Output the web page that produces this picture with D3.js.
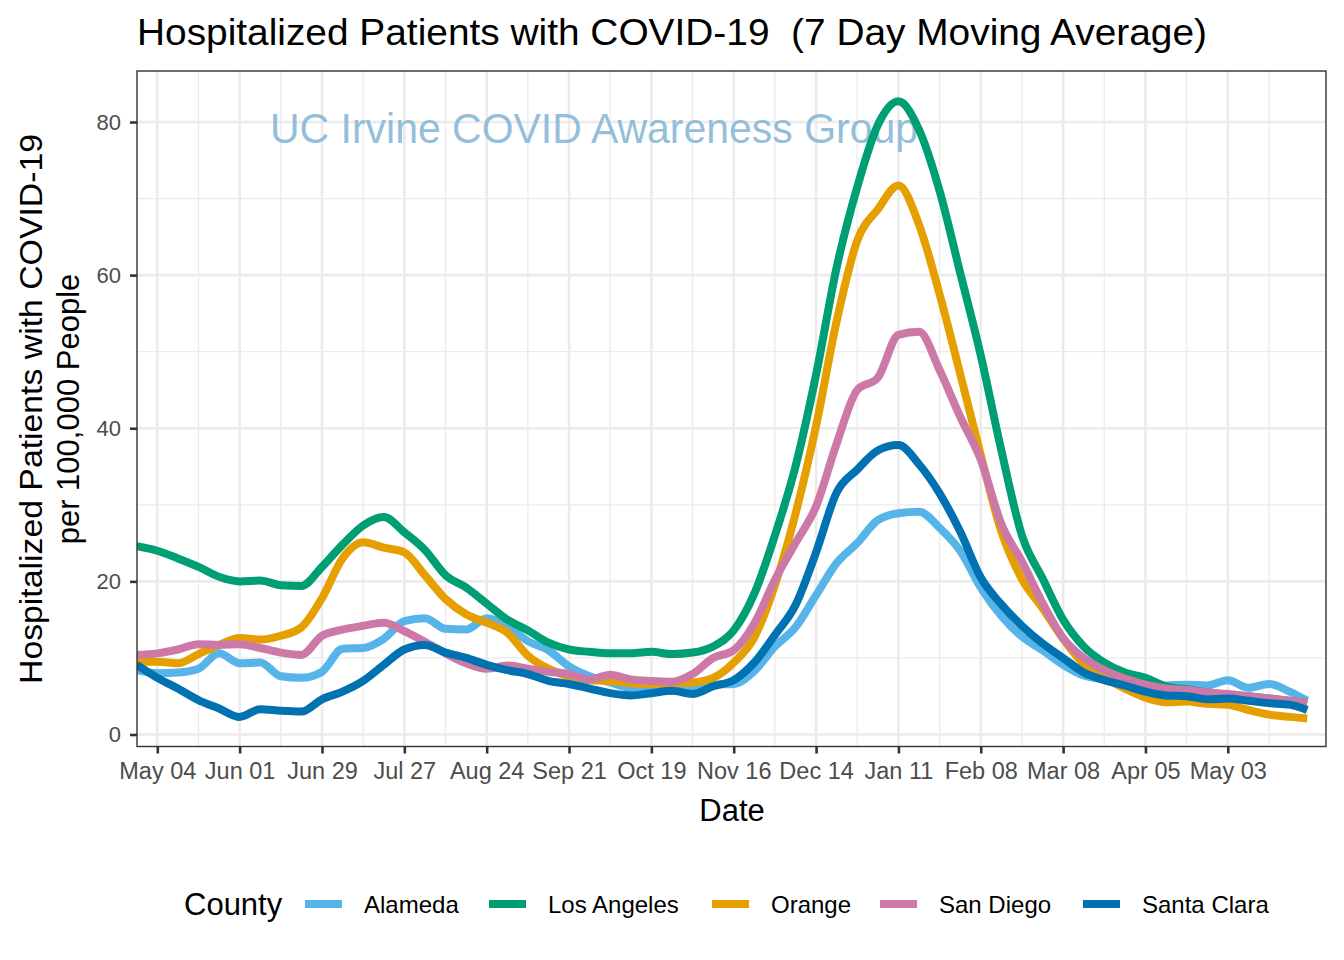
<!DOCTYPE html>
<html>
<head>
<meta charset="utf-8">
<script src="https://cdn.jsdelivr.net/npm/d3@7"></script>
<style>
  html, body { margin: 0; padding: 0; background: #ffffff; }
  svg { display: block; }
  text { font-family: "Liberation Sans", Arial, Helvetica, sans-serif; }
</style>
</head>
<body>
<svg id="chart" width="1344" height="960"></svg>
<script>
// ---------------- DATA ----------------
const dates = [
  "2020-04-27","2020-05-04","2020-05-11","2020-05-18","2020-05-25","2020-06-01","2020-06-08","2020-06-15",
  "2020-06-22","2020-06-29","2020-07-06","2020-07-13","2020-07-20","2020-07-27","2020-08-03","2020-08-10",
  "2020-08-17","2020-08-24","2020-08-31","2020-09-07","2020-09-14","2020-09-21","2020-09-28","2020-10-05",
  "2020-10-12","2020-10-19","2020-10-26","2020-11-02","2020-11-09","2020-11-16","2020-11-23","2020-11-30",
  "2020-12-07","2020-12-14","2020-12-21","2020-12-28","2021-01-04","2021-01-11","2021-01-18","2021-01-25",
  "2021-02-01","2021-02-08","2021-02-15","2021-02-22","2021-03-01","2021-03-08","2021-03-15","2021-03-22",
  "2021-03-29","2021-04-05","2021-04-12","2021-04-19","2021-04-26","2021-05-03","2021-05-10","2021-05-17",
  "2021-05-24","2021-05-30"
];
const counties = ["Alameda", "Los Angeles", "Orange", "San Diego", "Santa Clara"];
const alameda = [8.4,8.0,8.1,8.6,10.6,9.3,9.4,7.6,7.4,8.2,11.2,11.3,12.5,14.8,15.2,13.8,13.7,15.2,14.2,12.2,11.0,8.9,7.6,6.8,6.0,5.7,5.7,5.9,6.5,6.6,8.3,11.5,14.0,18.2,22.4,25.0,28.0,28.9,29.1,27.0,24.0,19.2,15.5,12.8,11.0,9.1,7.7,7.2,6.6,6.1,6.4,6.5,6.4,7.1,6.1,6.6,5.6,4.4];
const losAngeles = [24.6,24.0,23.0,21.9,20.6,20.0,20.1,19.5,19.4,21.9,24.8,27.3,28.4,26.4,24.1,20.8,19.2,17.1,15.0,13.6,12.0,11.1,10.8,10.6,10.6,10.8,10.5,10.7,11.5,13.6,18.4,26.0,35.0,47.0,61.0,71.5,79.6,82.7,79.0,71.0,60.3,49.5,37.1,26.0,20.4,15.0,11.5,9.4,8.1,7.4,6.3,5.9,5.5,5.2,5.0,4.7,4.4,4.1];
const orange = [9.5,9.5,9.3,10.5,11.7,12.6,12.4,12.9,14.0,17.8,23.0,25.1,24.4,23.8,20.8,17.7,15.7,14.6,13.3,10.3,8.6,7.6,7.1,7.0,6.7,6.6,6.7,6.8,7.4,9.4,12.7,19.5,28.8,40.3,54.0,64.5,68.6,71.7,66.6,57.5,47.1,36.5,26.5,20.3,16.5,12.5,9.2,7.4,6.0,4.8,4.2,4.3,4.0,3.9,3.2,2.6,2.3,2.1];
const sanDiego = [10.4,10.6,11.1,11.8,11.7,11.8,11.3,10.7,10.4,12.9,13.7,14.2,14.6,13.5,12.1,10.6,9.3,8.6,9.0,8.6,8.2,7.9,7.2,7.8,7.2,7.0,6.9,7.9,10.0,11.0,14.5,20.2,25.0,29.8,38.0,45.0,46.6,52.2,52.6,47.6,41.5,35.9,27.5,22.6,17.2,12.6,10.0,8.4,7.3,6.5,6.0,5.8,5.5,5.3,5.0,4.7,4.4,4.1];
const santaClara = [9.1,7.4,6.0,4.5,3.4,2.3,3.3,3.1,3.0,4.6,5.6,7.0,9.1,11.1,11.7,10.7,10.0,9.1,8.4,7.9,7.0,6.6,6.0,5.4,5.1,5.4,5.7,5.3,6.3,7.1,9.4,13.0,16.9,23.8,31.6,34.6,37.1,37.8,35.3,31.5,26.5,20.5,17.0,14.2,11.9,10.0,8.1,7.1,6.4,5.6,5.1,5.0,4.6,4.7,4.4,4.1,3.9,3.2];
const colors = ["#56B4E9", "#009E73", "#E69F00", "#CC79A7", "#0072B2"];
const xTickDates = ["2020-05-04","2020-06-01","2020-06-29","2020-07-27","2020-08-24","2020-09-21","2020-10-19",
  "2020-11-16","2020-12-14","2021-01-11","2021-02-08","2021-03-08","2021-04-05","2021-05-03"];
const yTicks = [0, 20, 40, 60, 80];
const yMinorTicks = [10, 30, 50, 70];

// ---------------- CHART ----------------
const parse = d3.utcParse("%Y-%m-%d");
const fmt = d3.utcFormat("%b %d");
const seriesValues = [alameda, losAngeles, orange, sanDiego, santaClara];
const series = counties.map((c, i) => ({
  name: c, color: colors[i],
  points: dates.map((d, j) => ({ date: parse(d), value: seriesValues[i][j] }))
}));

const svg = d3.select("#chart");
const panel = { left: 137, right: 1326, top: 71, bottom: 746.5 };

const x = d3.scaleUtc()
  .domain([parse("2020-05-04"), parse("2021-05-03")])
  .range([157.3, 1227.8]);
const y = d3.scaleLinear().domain([0, 80]).range([734.5, 122]);

svg.append("rect").attr("x", 0).attr("y", 0).attr("width", 1344).attr("height", 960).attr("fill", "#fff");

const clip = svg.append("defs").append("clipPath").attr("id", "pclip");
clip.append("rect").attr("x", panel.left).attr("y", panel.top)
  .attr("width", panel.right - panel.left).attr("height", panel.bottom - panel.top);

const grid = svg.append("g").attr("clip-path", "url(#pclip)");
const xTicks = xTickDates.map(parse);
const xMinor = [];
for (let i = -1; i < xTicks.length + 1; i++) {
  const base = i < 0 ? d3.utcDay.offset(xTicks[0], -28) : (i >= xTicks.length ? d3.utcDay.offset(xTicks[xTicks.length-1], 28 * (i - xTicks.length + 1)) : xTicks[i]);
  xMinor.push(d3.utcDay.offset(base, 14));
}
grid.selectAll("line.ymin").data(yMinorTicks).join("line")
  .attr("x1", panel.left).attr("x2", panel.right)
  .attr("y1", d => y(d)).attr("y2", d => y(d))
  .attr("stroke", "#ebebeb").attr("stroke-width", 1.3);
grid.selectAll("line.xmin").data(xMinor).join("line")
  .attr("y1", panel.top).attr("y2", panel.bottom)
  .attr("x1", d => x(d)).attr("x2", d => x(d))
  .attr("stroke", "#ebebeb").attr("stroke-width", 1.3);
grid.selectAll("line.ymaj").data(yTicks).join("line")
  .attr("x1", panel.left).attr("x2", panel.right)
  .attr("y1", d => y(d)).attr("y2", d => y(d))
  .attr("stroke", "#ebebeb").attr("stroke-width", 2.6);
grid.selectAll("line.xmaj").data(xTicks).join("line")
  .attr("y1", panel.top).attr("y2", panel.bottom)
  .attr("x1", d => x(d)).attr("x2", d => x(d))
  .attr("stroke", "#ebebeb").attr("stroke-width", 2.6);

// watermark
svg.append("text")
  .attr("x", 270).attr("y", 143)
  .attr("font-size", 42)
  .attr("fill", "#8dbbd9")
  .attr("fill-opacity", 0.95)
  .attr("textLength", 648).attr("lengthAdjust", "spacingAndGlyphs")
  .text("UC Irvine COVID Awareness Group");

// lines
const line = d3.line()
  .x(d => x(d.date)).y(d => y(d.value))
  .curve(d3.curveMonotoneX);
const lines = svg.append("g").attr("clip-path", "url(#pclip)");
lines.selectAll("path").data(series).join("path")
  .attr("d", d => line(d.points))
  .attr("fill", "none")
  .attr("stroke", d => d.color)
  .attr("stroke-width", 8)
  .attr("stroke-linejoin", "round")
  .attr("stroke-linecap", "butt");

// panel border
svg.append("rect")
  .attr("x", panel.left).attr("y", panel.top)
  .attr("width", panel.right - panel.left).attr("height", panel.bottom - panel.top)
  .attr("fill", "none").attr("stroke", "#333333").attr("stroke-width", 1.4);

// axes
const xAxis = d3.axisBottom(x).tickValues(xTicks).tickFormat(fmt).tickSize(7).tickPadding(9);
const gx = svg.append("g").attr("transform", `translate(0,${panel.bottom})`).call(xAxis);
gx.select(".domain").remove();
gx.selectAll(".tick line").attr("stroke", "#333333").attr("stroke-width", 2.6);
gx.selectAll(".tick text").attr("fill", "#4d4d4d").attr("font-size", 23.5)
  .attr("font-family", "Liberation Sans, Arial, sans-serif");

const yAxis = d3.axisLeft(y).tickValues(yTicks).tickSize(7).tickPadding(9);
const gy = svg.append("g").attr("transform", `translate(${panel.left},0)`).call(yAxis);
gy.select(".domain").remove();
gy.selectAll(".tick line").attr("stroke", "#333333").attr("stroke-width", 2.6);
gy.selectAll(".tick text").attr("fill", "#4d4d4d").attr("font-size", 22)
  .attr("font-family", "Liberation Sans, Arial, sans-serif");

// title
svg.append("text")
  .attr("x", 137).attr("y", 45)
  .attr("font-size", 37).attr("fill", "#000")
  .style("white-space", "pre")
  .attr("textLength", 1070).attr("lengthAdjust", "spacingAndGlyphs")
  .text("Hospitalized Patients with COVID-19  (7 Day Moving Average)");

// axis titles
svg.append("text")
  .attr("x", 732).attr("y", 821)
  .attr("text-anchor", "middle")
  .attr("font-size", 31).attr("fill", "#000")
  .text("Date");

const yt = svg.append("g").attr("transform", "translate(0,409) rotate(-90)");
yt.append("text").attr("x", 0).attr("y", 42)
  .attr("text-anchor", "middle").attr("font-size", 31).attr("fill", "#000")
  .attr("textLength", 550).attr("lengthAdjust", "spacingAndGlyphs")
  .text("Hospitalized Patients with COVID-19");
yt.append("text").attr("x", 0).attr("y", 79)
  .attr("text-anchor", "middle").attr("font-size", 31).attr("fill", "#000")
  .text("per 100,000 People");

// legend
const legend = svg.append("g");
legend.append("text").attr("x", 184).attr("y", 915)
  .attr("font-size", 31).attr("fill", "#000").text("County");
const keyX = [305, 489, 712, 880, 1083];
series.forEach((s, i) => {
  legend.append("line")
    .attr("x1", keyX[i]).attr("x2", keyX[i] + 37)
    .attr("y1", 904).attr("y2", 904)
    .attr("stroke", s.color).attr("stroke-width", 8);
  legend.append("text")
    .attr("x", keyX[i] + 59).attr("y", 913)
    .attr("font-size", 24).attr("fill", "#000")
    .text(s.name);
});
</script>
</body>
</html>
